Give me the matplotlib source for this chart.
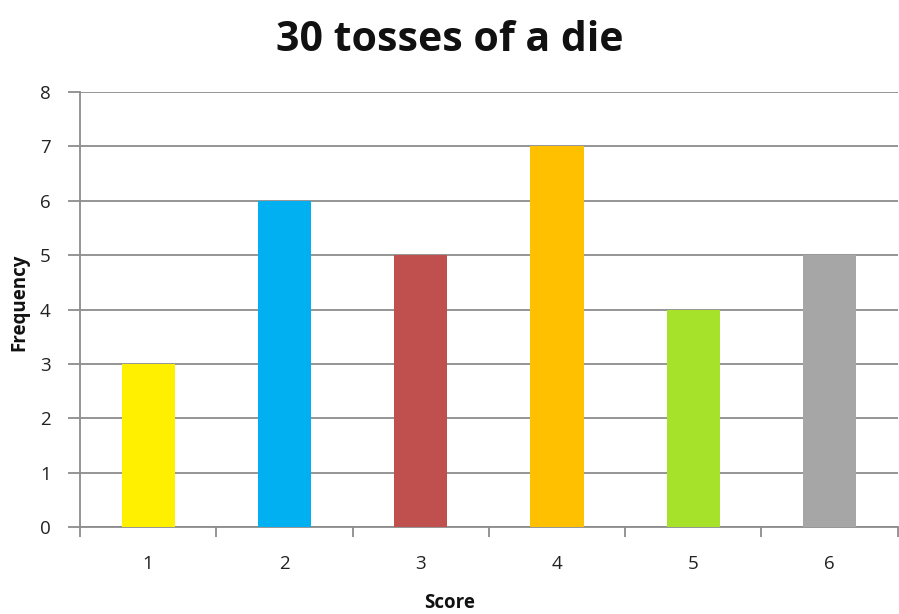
import matplotlib
matplotlib.use("Agg")
import matplotlib.pyplot as plt

plt.rcParams['font.family'] = ['Open Sans', 'DejaVu Sans']

scores = [1, 2, 3, 4, 5, 6]
frequency = [3, 6, 5, 7, 4, 5]
bar_colors = ['#FFF000', '#00B0F0', '#C0504D', '#FFC000', '#A6E22A', '#A6A6A6']

fig = plt.figure(figsize=(8.99, 6.14), dpi=100)
ax = fig.add_axes([0.089, 0.1417, 0.9095, 0.7083])

grid_col = '#8c8c8c'
ax.bar(scores, frequency, width=0.39, color=bar_colors, zorder=3)

ax.set_xlim(0.5, 6.5)
ax.set_ylim(0, 8)
ax.set_yticks(range(0, 9))
ax.yaxis.grid(True, color=grid_col, linewidth=1.3, zorder=0)

# category boundary ticks, labels centred under the bars
ax.set_xticks([0.5 + i for i in range(7)])
ax.set_xticklabels([])
ax.set_xticks(scores, minor=True)
ax.set_xticklabels([str(s) for s in scores], minor=True)
ax.tick_params(axis='x', which='major', length=7, width=1.3, color=grid_col)
ax.tick_params(axis='x', which='minor', length=0, pad=20, labelsize=13.5,
               labelcolor='#222222')
ax.tick_params(axis='y', length=9, width=1.3, color=grid_col, pad=12,
               labelsize=13.5, labelcolor='#222222')

for side in ['top', 'right']:
    ax.spines[side].set_visible(False)
for side in ['left', 'bottom']:
    ax.spines[side].set_color(grid_col)
    ax.spines[side].set_linewidth(1.3)

fig.suptitle('30 tosses of a die', fontsize=29.5, fontweight='bold', y=0.967, x=0.5,
             color='#111111')
fig.text(0.5, 0.018, 'Score', ha='center', va='center', fontsize=13.5,
         fontweight='bold', color='#111111')
fig.text(0.021, 0.507, 'Frequency', ha='center', va='center', rotation=90,
         fontsize=13.5, fontweight='bold', color='#111111')

fig.savefig('out.png', dpi=100)
